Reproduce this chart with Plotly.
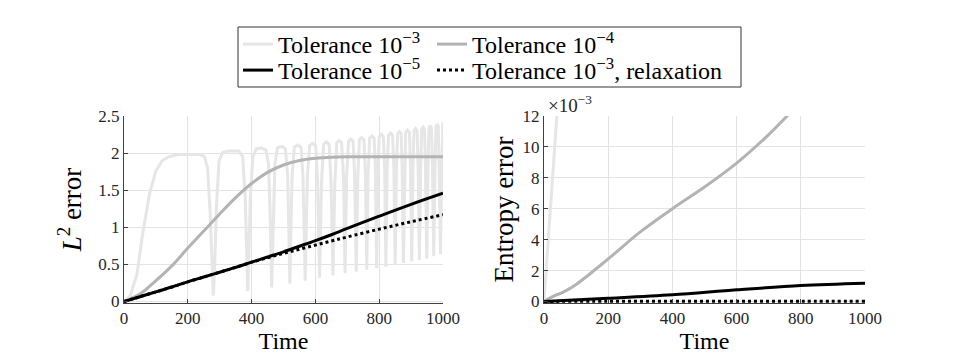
import plotly.graph_objects as go

FONT = "Liberation Serif"
W, H = 955, 359
OFF = 8  # the page puts the figure 8px in from the window corner

# ---- left panel: L2 error ----
t_tol3 = [0, 20, 40, 60, 80, 100, 120, 140, 170, 200, 240, 252, 262, 270, 276, 280, 284, 290, 298, 310,
          330, 360, 372, 380, 385, 388, 391, 396, 404, 415, 430, 445, 453, 458, 463, 468, 473, 481,
          495, 506, 513, 517, 520, 523, 527, 534, 545, 555, 561, 565, 568, 571, 575, 582,
          591, 601, 607, 610, 613, 616, 619, 626, 634, 643, 649, 652, 655, 658, 661, 667,
          674, 682, 688, 693, 698, 704, 711, 718, 723, 728, 733, 738, 745, 752, 757, 761, 765, 770,
          777, 784, 788, 792, 796, 800, 807, 813, 817, 821, 825, 829, 836, 842, 846, 850, 854, 858,
          863, 869, 872, 876, 880, 883, 889, 895, 898, 902, 906, 909, 914, 919, 922, 926, 930, 933,
          938, 942, 945, 949, 953, 956, 960, 964, 967, 971, 975, 978, 982, 985, 988, 992, 996, 1000]
v_tol3 = [0, 0.08, 0.36, 0.95, 1.45, 1.76, 1.9, 1.95, 1.98, 1.98, 1.98, 1.95, 1.8, 1.2, 0.45, 0.08, 0.45, 1.3, 1.9, 2.01,
          2.03, 2.03, 1.95, 1.4, 0.6, 0.14, 0.6, 1.4, 1.95, 2.06, 2.07, 2.04, 1.85, 1.2, 0.19, 1.2, 1.85, 2.07,
          2.09, 2.06, 1.7, 0.9, 0.24, 0.9, 1.7, 2.08, 2.11, 2.08, 1.7, 0.9, 0.28, 0.9, 1.7, 2.1,
          2.13, 2.1, 1.6, 0.9, 0.32, 0.9, 1.6, 2.12, 2.15, 2.12, 1.6, 1.0, 0.35, 1.0, 1.6, 2.14,
          2.17, 2.14, 1.7, 0.38, 1.7, 2.16, 2.19, 2.16, 1.7, 0.4, 1.7, 2.18, 2.21, 2.18, 1.7, 0.43, 1.7, 2.2,
          2.23, 2.2, 1.8, 0.45, 1.8, 2.22, 2.25, 2.22, 1.8, 0.47, 1.8, 2.24, 2.27, 2.24, 1.8, 0.5, 1.8, 2.26,
          2.29, 2.26, 1.8, 0.52, 1.8, 2.28, 2.31, 2.28, 1.8, 0.54, 1.8, 2.3, 2.33, 2.3, 1.8, 0.56, 1.8, 2.32,
          2.35, 2.32, 1.8, 0.58, 1.8, 2.34, 2.37, 2.34, 1.8, 0.61, 1.8, 2.36, 2.39, 2.36, 1.8, 0.64, 1.8, 2.42]

t_l2 = [0, 50, 100, 150, 200, 250, 300, 350, 400, 450, 500, 550, 600, 650, 700, 800, 900, 1000]
v_tol4 = [0, 0.1, 0.28, 0.48, 0.72, 0.95, 1.18, 1.4, 1.59, 1.74, 1.84, 1.9, 1.93, 1.945, 1.95, 1.95, 1.95, 1.95]
v_tol5 = [0, 0.065, 0.13, 0.195, 0.265, 0.33, 0.395, 0.46, 0.53, 0.6, 0.67, 0.745, 0.82, 0.9, 0.985, 1.15, 1.31, 1.46]
v_relax = [0, 0.065, 0.13, 0.195, 0.265, 0.33, 0.395, 0.46, 0.53, 0.59, 0.65, 0.705, 0.76, 0.815, 0.87, 0.975, 1.075, 1.17]

# ---- right panel: entropy error (x 1e-3) ----
t_e3 = [0, 5, 10, 20, 30, 40, 45]
e_tol3 = [0, 1.5, 3.5, 6.5, 9.3, 12, 13.5]
t_ent = [0, 30, 60, 100, 200, 300, 400, 500, 600, 700, 780]
e_tol4 = [0, 0.35, 0.6, 1.1, 2.75, 4.5, 6.0, 7.4, 8.95, 10.8, 12.5]
t_ent2 = [0, 200, 400, 600, 800, 1000]
e_tol5 = [0, 0.2, 0.43, 0.75, 1.03, 1.18]
e_relax = [0, 0.02, 0.02, 0.02, 0.02, 0.02]

names = ["Tolerance 10<sup>\u22123</sup>", "Tolerance 10<sup>\u22124</sup>",
         "Tolerance 10<sup>\u22125</sup>", "Tolerance 10<sup>\u22123</sup>, relaxation"]
colors = ["#e6e6e6", "#b3b3b3", "#000000", "#000000"]
dashes = ["solid", "solid", "solid", "dot"]
shapes_ = ["linear", "spline", "spline", "spline"]
legends = ["legend", "legend2", "legend3", "legend4"]


def px_x(v):
    return (v - OFF) / W


def px_y(v):
    return 1 - (v - OFF) / H


fig = go.Figure()
left = [(t_tol3, v_tol3), (t_l2, v_tol4), (t_l2, v_tol5), (t_l2, v_relax)]
right = [(t_e3, e_tol3), (t_ent, e_tol4), (t_ent2, e_tol5), (t_ent2, e_relax)]
for i in range(4):
    fig.add_trace(go.Scatter(x=left[i][0], y=left[i][1], mode="lines", name=names[i],
                             line=dict(color=colors[i], width=3, dash=dashes[i], shape=shapes_[i]),
                             legend=legends[i], xaxis="x", yaxis="y"))
for i in range(4):
    fig.add_trace(go.Scatter(x=right[i][0], y=right[i][1], mode="lines", name=names[i],
                             line=dict(color=colors[i], width=3, dash=dashes[i], shape=shapes_[i]),
                             showlegend=False, xaxis="x2", yaxis="y2"))

tick_font = dict(family=FONT + ", serif", size=17, color="#262626")
ax = dict(showgrid=True, gridcolor="#e3e3e3", gridwidth=1, zeroline=False, automargin=False,
          showline=True, linecolor="#404040", linewidth=1, ticks="inside", ticklen=4,
          tickcolor="#404040", tickfont=tick_font)

leg = dict(orientation="h", xanchor="left", yanchor="top", bgcolor="rgba(0,0,0,0)",
           font=dict(family=FONT + ", serif", size=24), itemwidth=30)
leg_pos = [(238, 22), (432, 22), (238, 48), (432, 48)]
legend_layout = {}
for name, (lx, ly) in zip(legends, leg_pos):
    legend_layout[name] = dict(leg, x=px_x(lx), y=px_y(ly))

ydom = [px_y(303), px_y(116)]
fig.update_layout(
    width=W, height=H, margin=dict(l=0, r=0, t=0, b=0, autoexpand=False),
    plot_bgcolor="white", paper_bgcolor="white",
    font=dict(family=FONT + ", serif", color="#000000"),
    xaxis=dict(ax, domain=[px_x(124), px_x(443)], range=[0, 1000], tickvals=[0, 200, 400, 600, 800, 1000],
               title=dict(text="Time", font=dict(size=24), standoff=4), anchor="y"),
    yaxis=dict(ax, domain=ydom, range=[-0.02, 2.5], tickvals=[0, 0.5, 1, 1.5, 2, 2.5],
               ticktext=["0", "0.5", "1", "1.5", "2", "2.5"],
               title=dict(text="<i>L</i><sup>2</sup> error", font=dict(size=27), standoff=8), anchor="x"),
    xaxis2=dict(ax, domain=[px_x(544), px_x(865)], range=[0, 1000], tickvals=[0, 200, 400, 600, 800, 1000],
                title=dict(text="Time", font=dict(size=24), standoff=4), anchor="y2"),
    yaxis2=dict(ax, domain=ydom, range=[-0.1, 12], tickvals=[0, 2, 4, 6, 8, 10, 12],
                title=dict(text="Entropy error", font=dict(size=27), standoff=1), anchor="x2"),
    shapes=[dict(type="rect", xref="paper", yref="paper", x0=px_x(238), x1=px_x(741),
                 y0=px_y(87), y1=px_y(27), line=dict(color="#333333", width=1),
                 fillcolor="white", layer="below")],
    annotations=[dict(text="\u00d710<sup>\u22123</sup>", xref="paper", yref="paper",
                      x=px_x(546), y=px_y(104), xanchor="left", yanchor="middle",
                      showarrow=False, font=dict(family=FONT, size=19, color="#262626"))],
    **legend_layout,
)

fig.write_html("out.html")
